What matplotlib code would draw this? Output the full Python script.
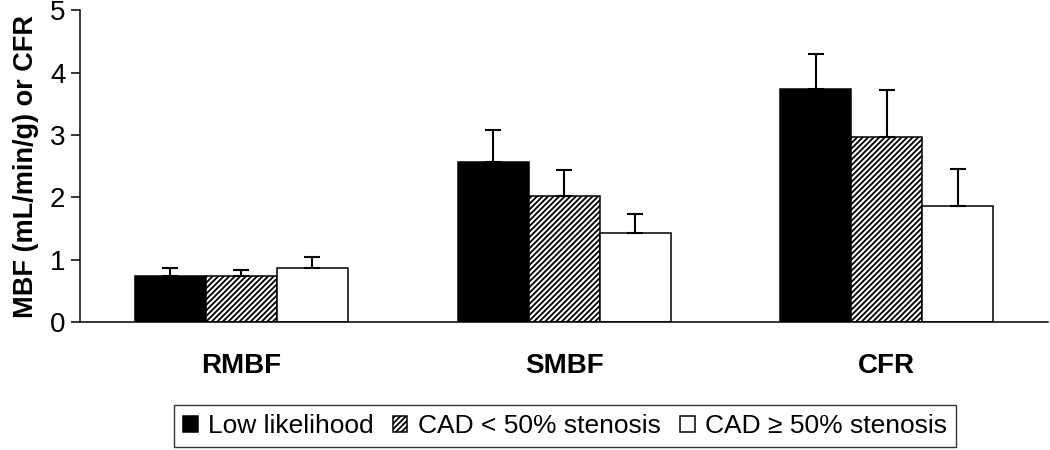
import matplotlib.pyplot as plt
import numpy as np

plt.rcParams['font.family'] = ['Liberation Sans', 'DejaVu Sans']
plt.rcParams['hatch.linewidth'] = 1.3

categories = ['RMBF', 'SMBF', 'CFR']
groups = ['Low likelihood', 'CAD < 50% stenosis', 'CAD ≥ 50% stenosis']

low_mean = [0.74, 2.57, 3.74]
low_sd = [0.13, 0.51, 0.56]
mid_mean = [0.74, 2.03, 2.97]
mid_sd = [0.10, 0.41, 0.76]
high_mean = [0.87, 1.43, 1.87]
high_sd = [0.18, 0.30, 0.59]

fig = plt.figure(figsize=(10.5, 4.5), dpi=100)
ax = fig.add_axes([0.0762, 0.2838, 0.922, 0.6933])

x = np.arange(len(categories))
w = 0.22
series = [
    (low_mean, low_sd, dict(facecolor='black', hatch=None)),
    (mid_mean, mid_sd, dict(facecolor='white', hatch='//////')),
    (high_mean, high_sd, dict(facecolor='white', hatch=None)),
]
for i, (m, sd, style) in enumerate(series):
    ax.bar(x + (i - 1) * w, m, w, edgecolor='black', linewidth=1.1,
           label=groups[i], zorder=2, **style)
    ax.errorbar(x + (i - 1) * w, m, yerr=[np.zeros(len(m)), sd], fmt='none',
                ecolor='black', elinewidth=1.5, capsize=5.5, capthick=1.5,
                zorder=3)

ax.set_xlim(-0.5, 2.5)
ax.set_ylim(0, 5)
ax.set_yticks(range(6))
ax.tick_params(axis='y', labelsize=20, length=6.5, width=1.1, pad=4)
ax.set_xticks(x)
ax.set_xticklabels(categories, fontsize=20, fontweight='bold')
ax.tick_params(axis='x', length=0, pad=22)
for s in ['top', 'right']:
    ax.spines[s].set_visible(False)
for s in ['left', 'bottom']:
    ax.spines[s].set_linewidth(1.1)
ax.set_ylabel('MBF (mL/min/g) or CFR', fontsize=19.5, fontweight='bold',
              labelpad=8)

leg = fig.legend(loc='center', bbox_to_anchor=(565 / 1050, 1 - 426 / 450),
                 ncol=3, fontsize=19, frameon=True, fancybox=False,
                 edgecolor='black', handlelength=0.55, handleheight=0.55,
                 handletextpad=0.39, columnspacing=0.74, borderpad=0.35)
leg.get_frame().set_linewidth(1.0)

fig.savefig('out.png', dpi=100)
